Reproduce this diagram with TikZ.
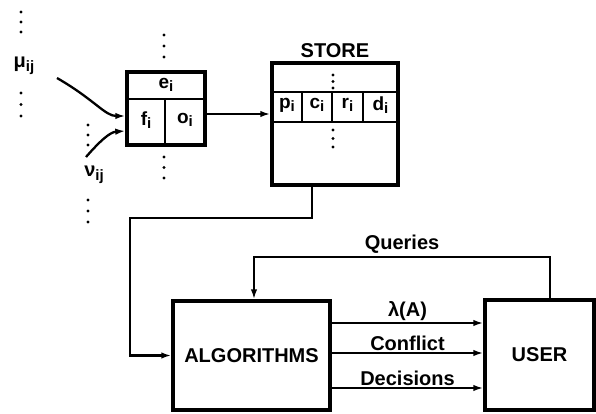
\documentclass[tikz,border=0pt]{standalone}
\usepackage{fontspec}
\setmainfont{Liberation Sans}
\usetikzlibrary{arrows.meta,positioning,calc}
\newcommand{\ssub}[1]{\raisebox{-3.5pt}{\fontsize{15}{15}\selectfont #1}}
\tikzset{box/.style={draw,line width=3.4pt,inner sep=0pt},
  part/.style={line width=2.4pt},
  flow/.style={-{Latex[length=10pt,width=6.5pt]},line width=2.3pt},
  lbl/.style={font=\fontsize{20}{20}\selectfont\bfseries,inner sep=2pt},
  cellt/.style={font=\fontsize{19}{19}\selectfont\bfseries,inner sep=0pt},
  dotcol/.style={line width=3.2pt,line cap=round,dash pattern=on 0pt off #1},
  dotcol/.default=10pt}

\begin{document}
\begin{tikzpicture}[x=1pt,y=-1pt]
\useasboundingbox (0,0) rectangle (596,414);
% source record
\node[box,minimum width=78pt,minimum height=73pt] (src) at (166,108.5) {};
\draw[part] (src.west |- 0,99) -- (src.east |- 0,99);
\draw[part] (165,99) -- (src.south -| 165,0);
\node[cellt] (ei) at (166,85) {e\ssub{i}};
\node[cellt] (fi) at (146,120) {f\ssub{i}};
\node[cellt] (oi) at (185,120) {o\ssub{i}};
% store
\node[box,minimum width=126pt,minimum height=122pt] (store) at (335,124) {};
\node[lbl,above=1pt of store] (storet) {STORE};
\draw[part] (store.west |- 0,92) -- (store.east |- 0,92);
\draw[part] (store.west |- 0,122) -- (store.east |- 0,122);
\foreach \cx in {302,332,363} \draw[part] (\cx,92) -- (\cx,122);
\node[cellt] (pi) at (287,105) {p\ssub{i}};
\node[cellt] (ci) at (317,105) {c\ssub{i}};
\node[cellt] (ri) at (347.5,105) {r\ssub{i}};
\node[cellt] (di) at (380.5,105) {d\ssub{i}};
% algorithms and user
\node[box,minimum width=157pt,minimum height=109pt,lbl] (alg) at (251.5,355.5) {ALGORITHMS};
\node[box,minimum width=109pt,minimum height=110pt,lbl] (user) at (539.5,355) {USER};
% inputs
\node[lbl] (muin) at (24,66) {μ\ssub{ij}};
\node[lbl] (nuin) at (94,175) {ν\ssub{ij}};
\coordinate (mus) at (57,78);
\coordinate (nus) at (86,157);
\draw[flow] (mus) .. controls (95,100) and (105,116) .. (src.west |- 0,116);
\draw[flow] (nus) .. controls (100,141) and (110,132) .. (src.west |- 0,131);
% dotted continuations
\draw[dotcol] (21,12) -- (21,33);
\draw[dotcol=11.5pt] (21,93) -- (21,117);
\draw[dotcol] (88,125) -- (88,146);
\draw[dotcol=11pt] (88,200) -- (88,223);
\draw[dotcol=11pt] (164,35) -- (164,58);
\draw[dotcol=10.5pt] (164,157) -- (164,179);
\draw[dotcol=6.5pt] (333,75) -- (333,89);
\draw[dotcol=8.5pt] (333,130) -- (333,148);
% connectors
\draw[flow] (src.east |- 0,114) -- (store.west |- 0,114);
\coordinate (sb) at (312,218);
\coordinate (ab) at (130,218);
\draw[flow] (store.south -| sb) -- (sb) -- (ab) |- (alg.west);
\coordinate (qr) at (550,257);
\coordinate (ql) at (254,257);
\draw[flow] (user.north -| qr) -- (qr) -- node[lbl,above] {Queries} (ql) -- (alg.north -| ql);
\draw[flow] (alg.east |- 0,323) -- node[lbl,above,inner sep=1pt] {λ(A)} (user.west |- 0,323);
\draw[flow] (alg.east |- 0,353) -- node[lbl,above,inner sep=1pt] {Conflict} (user.west |- 0,353);
\draw[flow] (alg.east |- 0,388) -- node[lbl,above,inner sep=1pt] {Decisions} (user.west |- 0,388);
\end{tikzpicture}
\end{document}
